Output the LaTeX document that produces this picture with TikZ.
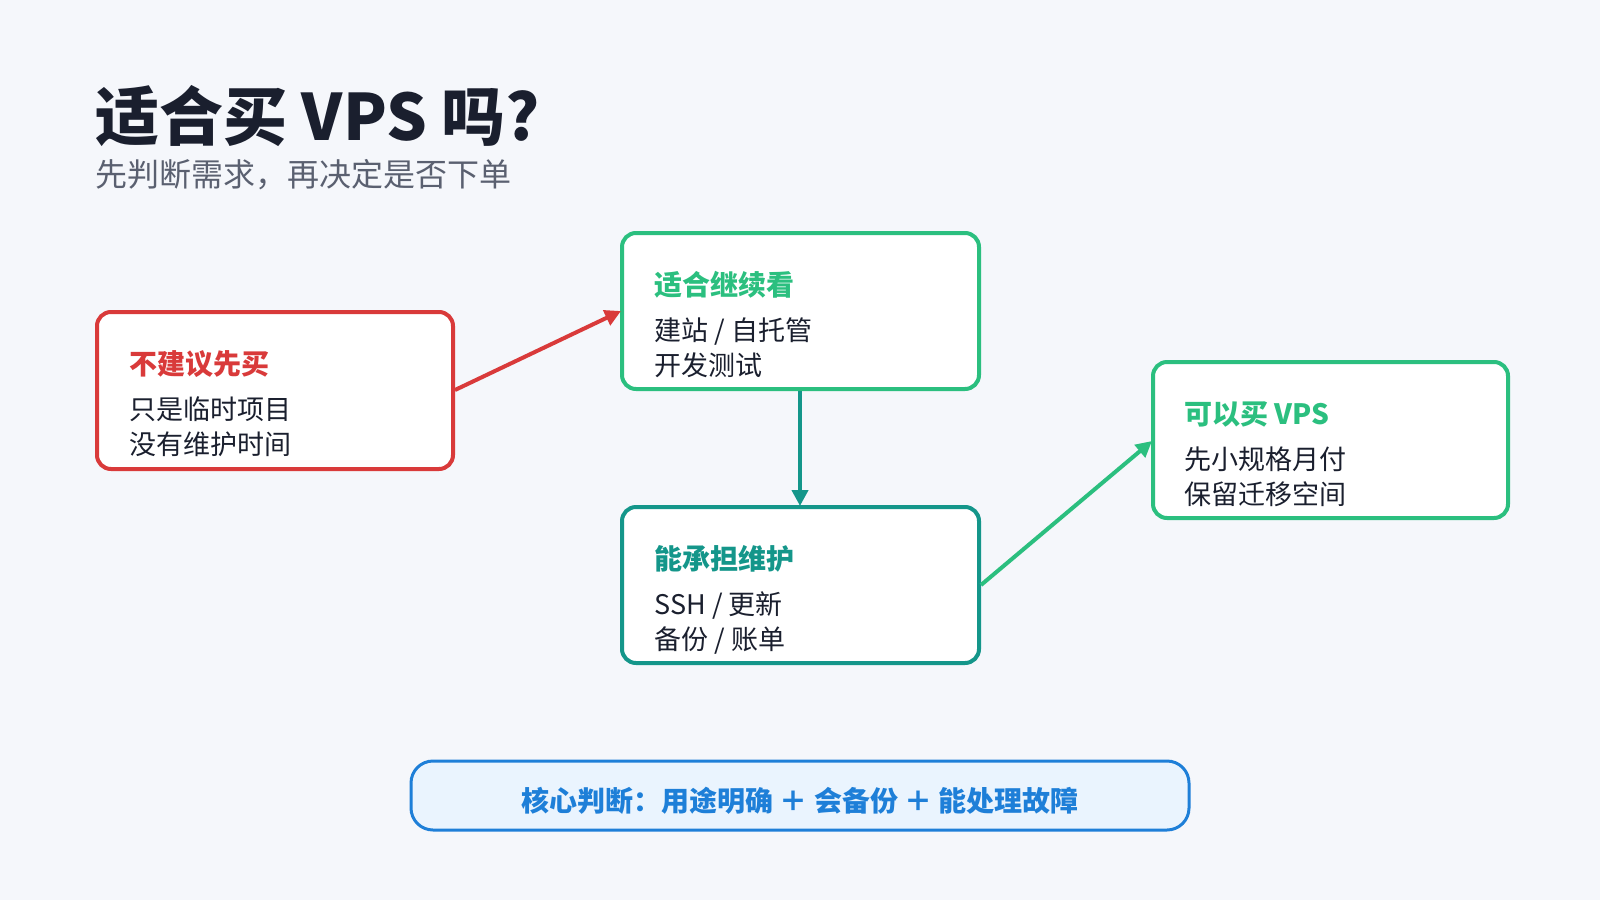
\documentclass[tikz,border=0pt]{standalone}
\usepackage{fontspec}
\setmainfont{Noto Sans CJK SC}
\usetikzlibrary{arrows.meta}
\definecolor{bg}{HTML}{F5F7FB}
\definecolor{cred}{HTML}{D93A3A}
\definecolor{cgreen}{HTML}{2BBF7F}
\definecolor{cteal}{HTML}{14968A}
\definecolor{cblue}{HTML}{1E7FD8}
\definecolor{cbluef}{HTML}{EAF4FE}
\definecolor{ink}{HTML}{1A1F2E}
\definecolor{sub}{HTML}{5A6070}
\tikzset{
 box/.style={draw=#1,line width=4pt,rounded corners=14pt,fill=white},
 ttl/.style={anchor=west,font=\fontsize{28}{30}\selectfont\bfseries,text=#1},
 body/.style={anchor=north west,font=\fontsize{27}{35}\selectfont,text=ink,align=left},
 arr/.style={draw=#1,line width=4pt,-{Triangle[length=16pt,width=16pt]}}
}
\begin{document}
\begin{tikzpicture}[x=1pt,y=-1pt]
\fill[bg] (0,0) rectangle (1600,900);
\useasboundingbox (0,0) rectangle (1600,900);
\node[anchor=base west,inner sep=0,font=\fontsize{64}{70}\selectfont\bfseries,text=ink] (title) at (95,140) {适合买 VPS 吗?};
\node[anchor=base west,inner sep=0,font=\fontsize{32}{36}\selectfont,text=sub] (subt) at (95,186) {先判断需求，再决定是否下单};
% boxes
\draw[box=cred] (97,312) rectangle (453,469); \coordinate (r) at (275,390);
\node[ttl=cred] (rt) at (126,364) {不建议先买};
\node[body] (rb) at (126,393) {只是临时项目\\没有维护时间};
\draw[box=cgreen] (622,233) rectangle (979,389);
\node[ttl=cgreen] (gt) at (651,285) {适合继续看};
\node[body] (gb) at (651,314) {建站 / 自托管\\开发测试};
\draw[box=cteal] (622,507) rectangle (979,663);
\node[ttl=cteal] (tt) at (651,559) {能承担维护};
\node[body] (tb) at (651,588) {SSH / 更新\\备份 / 账单};
\draw[box=cgreen] (1153,362) rectangle (1508,518);
\node[ttl=cgreen] (vt) at (1181,414) {可以买 VPS};
\node[body] (vb) at (1181,443) {先小规格月付\\保留迁移空间};
\coordinate (a1) at (455,390); \coordinate (a2) at (621,311);
\coordinate (b1) at (800,391); \coordinate (b2) at (800,506);
\coordinate (c1) at (981,585); \coordinate (c2) at (1152,441);
\draw[arr=cred] (a1) -- (a2);
\draw[arr=cteal] (b1) -- (b2);
\draw[arr=cgreen] (c1) -- (c2);
\draw[draw=cblue,fill=cbluef,line width=3pt,rounded corners=22pt] (411,761) rectangle (1189,830);
\node[font=\fontsize{28}{30}\selectfont\bfseries,text=cblue] (bot) at (800,801) {核心判断：用途明确 ＋ 会备份 ＋ 能处理故障};
\end{tikzpicture}
\end{document}
